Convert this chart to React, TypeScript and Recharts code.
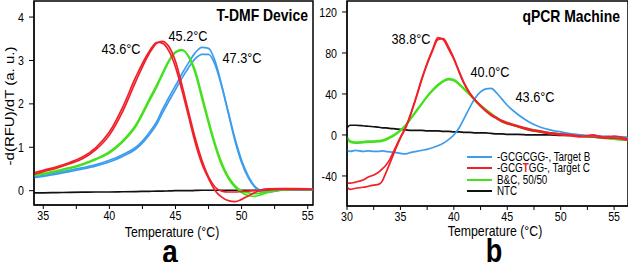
import { LineChart, Line, XAxis, YAxis, ReferenceArea } from "recharts";

const FONT = '"Liberation Sans", Arial, sans-serif';
const SQUEEZE = 0.82;

const RED = "#f0202a";
const GREEN = "#44e11c";
const BLUE = "#3d9ded";
const BLACK = "#111111";

// panel a: T-DMF device
const tempsA = [34.3, 35, 36, 37, 38, 39, 40, 41, 42, 43, 43.6, 44, 44.5, 45, 45.5, 46, 46.5, 47, 47.5, 48, 48.5, 49, 49.5, 50, 50.5, 51, 51.5, 52, 53, 54, 55, 55.4];
const aTargetB1 = [0.32, 0.35, 0.41, 0.47, 0.53, 0.6, 0.7, 0.83, 1.0, 1.33, 1.6, 1.86, 2.15, 2.42, 2.7, 2.95, 3.18, 3.3, 3.28, 2.98, 2.42, 1.78, 1.15, 0.65, 0.3, 0.08, -0.02, -0.03, 0.01, 0.02, 0.02, 0.02];
const aTargetB2 = [0.3, 0.33, 0.38, 0.44, 0.5, 0.57, 0.66, 0.79, 0.96, 1.28, 1.54, 1.78, 2.06, 2.33, 2.6, 2.84, 3.04, 3.14, 3.14, 2.9, 2.4, 1.8, 1.2, 0.7, 0.34, 0.1, 0.0, -0.02, 0.01, 0.02, 0.02, 0.02];
const aTargetC1 = [0.41, 0.47, 0.55, 0.65, 0.78, 1.0, 1.35, 1.92, 2.62, 3.2, 3.42, 3.4, 3.22, 2.85, 2.3, 1.7, 1.1, 0.62, 0.28, 0.0, -0.15, -0.23, -0.25, -0.2, -0.12, -0.04, 0.02, 0.04, 0.05, 0.05, 0.04, 0.03];
const aTargetC2 = [0.38, 0.44, 0.52, 0.62, 0.74, 0.95, 1.28, 1.82, 2.52, 3.15, 3.4, 3.44, 3.32, 2.98, 2.42, 1.8, 1.2, 0.7, 0.32, 0.08, -0.01, -0.03, -0.03, -0.02, -0.01, 0.0, 0.01, 0.02, 0.03, 0.03, 0.03, 0.03];
const aMix1 = [0.37, 0.4, 0.46, 0.53, 0.62, 0.74, 0.9, 1.15, 1.52, 2.1, 2.45, 2.7, 3.0, 3.2, 3.25, 3.08, 2.7, 2.12, 1.55, 1.02, 0.58, 0.28, 0.08, -0.04, -0.11, -0.13, -0.09, -0.04, 0.02, 0.03, 0.03, 0.03];
const aMix2 = [0.35, 0.38, 0.44, 0.51, 0.6, 0.72, 0.87, 1.12, 1.48, 2.05, 2.4, 2.66, 2.97, 3.18, 3.23, 3.1, 2.76, 2.2, 1.62, 1.08, 0.64, 0.32, 0.12, 0.0, -0.05, -0.07, -0.05, -0.02, 0.02, 0.03, 0.03, 0.03];
const aNtc = [-0.05, -0.05, -0.045, -0.04, -0.035, -0.03, -0.03, -0.025, -0.02, -0.015, -0.01, -0.01, -0.005, 0, 0, 0, 0.005, 0.01, 0.01, 0.01, 0.01, 0.01, 0.01, 0.01, 0.01, 0.01, 0.01, 0.01, 0.01, 0.01, 0.01, 0.01];

// panel b: qPCR machine
const tempsB = [30, 30.3, 30.8, 31.5, 32, 32.5, 33, 33.3, 33.6, 34, 34.5, 35, 35.5, 36, 36.5, 37, 37.5, 38, 38.5, 39, 39.5, 40, 40.5, 41, 41.5, 42, 42.5, 43, 43.5, 44, 44.5, 45, 46, 47, 48, 49, 50, 51, 52, 53, 54, 55, 56.3];
const bTargetB = [-15, -16, -15, -16, -15.5, -16, -16, -15.5, -16, -16.5, -17, -18, -18.5, -17, -16, -15, -14, -12.5, -10.5, -8, -4.5, 0, 7, 17, 27, 36, 42, 45, 45.5, 41, 35, 29, 20, 13, 8, 5, 3, 1, 0, -1, -1.5, -2, -2.5];
const bTargetC1 = [-47, -47, -46, -44, -41, -39, -36, -33, -30, -24, -13, -2, 8, 22, 38, 55, 70, 83, 95, 93, 84, 74, 61, 49, 40, 34, 29, 24, 20, 17, 14, 12, 9, 6, 4, 2, 1, 0, -1, 0, -2, -1, -4];
const bTargetC2 = [-51, -53, -52, -51, -50, -49, -48, -45, -38, -28, -15, -3, 7, 21, 37, 54, 69, 82, 93, 94, 86, 75, 62, 50, 41, 34, 28, 23, 19, 16, 13, 11, 8, 5, 3, 1, 0, -1, -2, -2, -3, -3, -5];
const bMix1 = [-2, -6, -7, -6.5, -6, -6, -5.5, -5, -4, -2, 1, 5, 10, 17, 24, 31, 38, 44, 49, 53, 55, 54, 50, 45, 40, 34, 29, 25, 21, 17, 14, 12, 8, 6, 4, 2, 1, 0, -1, -2, -3, -4, -5];
const bMix2 = [-3, -7, -8, -7.5, -7, -7, -6.5, -6, -5, -3, 0, 4, 9, 16, 23, 30, 37, 43, 48, 52, 54, 53, 49, 44, 39, 33, 28, 24, 20, 16, 13, 11, 8, 5, 3, 2, 1, 0, -1, -2, -3, -4, -5];
const bNtc = [7, 9.5, 9.5, 9, 8.5, 8, 7.5, 7, 7, 6.5, 6, 5.5, 5, 4.5, 4.5, 4.5, 4, 4, 4, 3.5, 3.5, 3, 3, 2.5, 2.5, 2, 2, 2, 1.5, 1, 1, 0.5, 0.5, 0, 0, 0, -0.5, -0.5, -1, -1, -1.5, -2, -2.5];

const xTicksA = [35, 37.5, 40, 42.5, 45, 47.5, 50, 52.5, 55];
const yTicksA = [0, 1, 2, 3, 4];
const xTicksB = [30, 32.5, 35, 37.5, 40, 42.5, 45, 47.5, 50, 52.5, 55];
const yTicksB = [-40, 0, 40, 80, 120];

const peaksA = ["43.6°C", "45.2°C", "47.3°C"];
const peaksB = ["38.8°C", "40.0°C", "43.6°C"];
const legendNames = ["-GCGCGG-, Target B", "-GCGTGG-, Target C", "B&C, 50/50", "NTC"];
const legendColors = [BLUE, RED, GREEN, BLACK];

const dataA = tempsA.map((t, i) => ({
  t,
  ntc: aNtc[i],
  b1: aTargetB1[i],
  b2: aTargetB2[i],
  m1: aMix1[i],
  m2: aMix2[i],
  c1: aTargetC1[i],
  c2: aTargetC2[i],
}));

const dataB = tempsB.map((t, i) => ({
  t,
  ntc: bNtc[i],
  m1: bMix1[i],
  m2: bMix2[i],
  b1: bTargetB[i],
  c1: bTargetC1[i],
  c2: bTargetC2[i],
}));

const seriesA = [
  { key: "ntc", color: BLACK },
  { key: "b1", color: BLUE },
  { key: "b2", color: BLUE },
  { key: "m1", color: GREEN },
  { key: "m2", color: GREEN },
  { key: "c1", color: RED },
  { key: "c2", color: RED },
];

const seriesB = [
  { key: "ntc", color: BLACK },
  { key: "m1", color: GREEN },
  { key: "m2", color: GREEN },
  { key: "b1", color: BLUE },
  { key: "c1", color: RED },
  { key: "c2", color: RED },
];

// the source figure is squeezed sideways, so text is drawn narrowed
function XTick({ x, y, payload }: any) {
  if (payload.value % 5 !== 0) return <g />;
  return (
    <text
      transform={`translate(${x},${y}) scale(${SQUEEZE},1)`}
      textAnchor="middle"
      dy="0.71em"
      fontSize={13}
      fill="#000"
      fontFamily={FONT}
    >
      {payload.value}
    </text>
  );
}

function YTick({ x, y, payload }: any) {
  return (
    <text
      transform={`translate(${x},${y}) scale(${SQUEEZE},1)`}
      textAnchor="end"
      dy="0.355em"
      fontSize={13}
      fill="#000"
      fontFamily={FONT}
    >
      {payload.value}
    </text>
  );
}

function Panel({ left, data, series, xDomain, xTicks, yDomain, yTicks, yAxisWidth, marginRight, xHeight }: any) {
  return (
    <div style={{ position: "absolute", left, top: 0 }}>
      <LineChart
        width={314}
        height={262}
        data={data}
        margin={{ top: 1, right: marginRight, bottom: 0, left: 0 }}
      >
        <XAxis
          type="number"
          dataKey="t"
          domain={xDomain}
          ticks={xTicks}
          interval={0}
          allowDataOverflow
          tickSize={4}
          tickMargin={2}
          height={xHeight}
          stroke="#000"
          tick={<XTick />}
        />
        <YAxis
          type="number"
          domain={yDomain}
          ticks={yTicks}
          interval={0}
          allowDataOverflow
          width={yAxisWidth}
          tickSize={5}
          tickMargin={5}
          stroke="#000"
          tick={<YTick />}
        />
        <ReferenceArea
          x1={xDomain[0]}
          x2={xDomain[1]}
          y1={yDomain[0]}
          y2={yDomain[1]}
          fill="none"
          stroke="#000"
          strokeWidth={1.5}
        />
        {series.map((s: any) => (
          <Line
            key={s.key}
            dataKey={s.key}
            type="monotone"
            stroke={s.color}
            strokeWidth={1.7}
            dot={false}
            isAnimationActive={false}
          />
        ))}
      </LineChart>
    </div>
  );
}

function Txt({ x, y, size, bold, children, anchor = "center" }: any) {
  const tx = anchor === "center" ? "-50%" : anchor === "end" ? "-100%" : "0";
  const origin = anchor === "center" ? "center" : anchor === "end" ? "right" : "left";
  return (
    <div
      style={{
        position: "absolute",
        left: x,
        top: y,
        transform: `translate(${tx}, -50%) scaleX(${SQUEEZE})`,
        transformOrigin: origin,
        fontSize: size,
        fontWeight: bold ? 700 : 400,
        fontFamily: FONT,
        whiteSpace: "nowrap",
        lineHeight: 1,
        color: "#000",
      }}
    >
      {children}
    </div>
  );
}

export default function App() {
  return (
    <div
      style={{
        position: "absolute",
        left: 0,
        top: 0,
        width: 628,
        height: 262,
        overflow: "hidden",
        background: "#fff",
        fontFamily: FONT,
      }}
    >
      <Panel
        left={0}
        data={dataA}
        series={seriesA}
        xDomain={[34.3, 55.4]}
        xTicks={xTicksA}
        yDomain={[-0.33, 4.37]}
        yTicks={yTicksA}
        yAxisWidth={34}
        marginRight={1}
        xHeight={57}
      />
      <Panel
        left={314}
        data={dataB}
        series={seriesB}
        xDomain={[30, 56.3]}
        xTicks={xTicksB}
        yDomain={[-69.3, 130.7]}
        yTicks={yTicksB}
        yAxisWidth={33}
        marginRight={0}
        xHeight={56}
      />

      <div
        style={{
          position: "absolute",
          left: 9,
          top: 106,
          transform: `translate(-50%, -50%) scaleX(${SQUEEZE}) rotate(-90deg)`,
          fontSize: 15,
          fontFamily: FONT,
          whiteSpace: "nowrap",
          lineHeight: 1,
        }}
      >
        -d(RFU)/dT (a. u.)
      </div>

      <Txt x={308} y={15} size={17} bold anchor="end">T-DMF Device</Txt>
      <Txt x={620} y={16} size={17} bold anchor="end">qPCR Machine</Txt>

      <Txt x={121} y={49} size={15.5}>{peaksA[0]}</Txt>
      <Txt x={188} y={36} size={15.5}>{peaksA[1]}</Txt>
      <Txt x={242} y={58} size={15.5}>{peaksA[2]}</Txt>
      <Txt x={411} y={39} size={15.5}>{peaksB[0]}</Txt>
      <Txt x={490} y={72} size={15.5}>{peaksB[1]}</Txt>
      <Txt x={535} y={97} size={15.5}>{peaksB[2]}</Txt>

      <Txt x={172} y={231} size={15}>Temperature (°C)</Txt>
      <Txt x={495} y={230} size={15}>Temperature (°C)</Txt>
      <Txt x={170} y={251} size={34} bold>a</Txt>
      <Txt x={494} y={250} size={33} bold>b</Txt>

      {legendNames.map((name, i) => (
        <div
          key={name}
          style={{
            position: "absolute",
            left: 467,
            top: 157 + i * 11.4,
            transform: "translateY(-50%)",
            display: "flex",
            alignItems: "center",
            fontSize: 12,
            lineHeight: 1,
            whiteSpace: "nowrap",
          }}
        >
          <div style={{ width: 25, height: 2, background: legendColors[i], marginRight: 5 }} />
          <span style={{ display: "inline-block", transform: `scaleX(${SQUEEZE})`, transformOrigin: "left" }}>
            {name === "-GCGTGG-, Target C" ? (
              <>
                -GCG<span style={{ color: RED, fontWeight: 700 }}>T</span>GG-, Target C
              </>
            ) : (
              name
            )}
          </span>
        </div>
      ))}
    </div>
  );
}
